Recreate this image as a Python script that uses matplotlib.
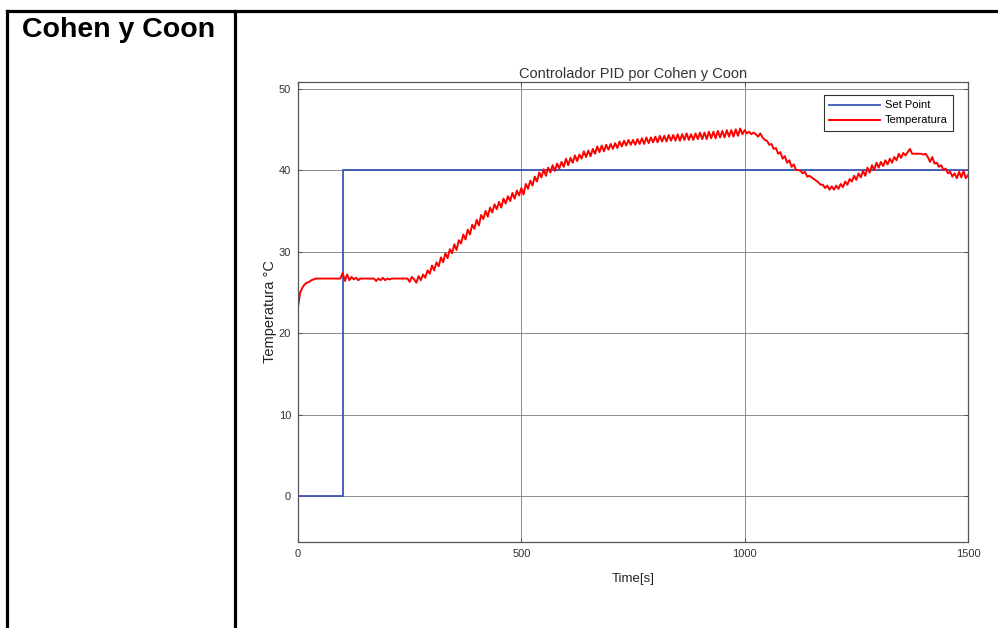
"""
Respuesta del controlador PID sintonizado por Cohen y Coon.
Celda de tabla: etiqueta a la izquierda, grafica de temperatura a la derecha.
"""

import matplotlib

matplotlib.use("Agg")
import matplotlib.pyplot as plt
from matplotlib.lines import Line2D


# set point (escalon en t = 100 s)
sp_time = [0, 100, 100, 1500]
sp_value = [0, 0, 40, 40]

temp_t0 = 0
temp_dt = 5
temperature = [
    23.2, 25.0, 25.6, 26.0, 26.2, 26.3, 26.5, 26.6, 26.7, 26.7,
    26.7, 26.7, 26.7, 26.7, 26.7, 26.7, 26.7, 26.7, 26.7, 26.7,
    27.4, 26.4, 27.2, 26.5, 26.9, 26.6, 26.8, 26.5, 26.7, 26.7,
    26.7, 26.7, 26.7, 26.7, 26.7, 26.4, 26.7, 26.5, 26.8, 26.5,
    26.7, 26.6, 26.7, 26.7, 26.7, 26.7, 26.7, 26.7, 26.7, 26.7,
    26.3, 26.9, 26.6, 26.2, 27.0, 26.5, 27.2, 26.8, 27.7, 27.3,
    28.3, 27.7, 28.7, 28.2, 29.3, 28.7, 29.8, 29.2, 30.3, 29.8,
    30.9, 30.2, 31.4, 31.0, 32.1, 31.5, 32.7, 32.1, 33.3, 32.8,
    33.9, 33.2, 34.5, 34.0, 35.0, 34.3, 35.4, 34.8, 35.8, 35.2,
    36.1, 35.4, 36.5, 35.9, 36.8, 36.2, 37.2, 36.5, 37.5, 36.9,
    37.8, 37.0, 38.3, 37.7, 38.7, 38.1, 39.2, 38.6, 39.7, 39.1,
    40.1, 39.3, 40.3, 39.7, 40.6, 39.9, 40.8, 40.2, 41.0, 40.4,
    41.4, 40.6, 41.5, 40.9, 41.8, 41.1, 41.9, 41.4, 42.3, 41.6,
    42.4, 41.7, 42.6, 42.0, 42.9, 42.2, 43.0, 42.3, 43.1, 42.5,
    43.2, 42.6, 43.3, 42.7, 43.5, 42.9, 43.6, 43.0, 43.7, 43.1,
    43.7, 43.1, 43.8, 43.2, 43.9, 43.2, 44.0, 43.3, 44.0, 43.4,
    44.1, 43.4, 44.2, 43.5, 44.2, 43.5, 44.3, 43.6, 44.3, 43.6,
    44.4, 43.6, 44.4, 43.7, 44.5, 43.7, 44.4, 43.7, 44.5, 43.8,
    44.6, 43.8, 44.6, 43.8, 44.7, 43.9, 44.7, 43.9, 44.8, 44.0,
    44.8, 44.0, 44.9, 44.1, 44.9, 44.1, 45.0, 44.2, 45.1, 44.4,
    44.9, 44.5, 44.7, 44.4, 44.6, 44.4, 44.1, 44.5, 44.0, 43.7,
    43.6, 43.1, 43.2, 42.6, 42.7, 42.0, 42.2, 41.4, 41.7, 40.9,
    41.2, 40.4, 40.7, 40.0, 40.0, 39.9, 39.6, 39.8, 39.2, 39.3,
    39.1, 38.9, 38.7, 38.5, 38.2, 38.2, 37.8, 38.1, 37.6, 38.0,
    37.6, 38.1, 37.7, 38.3, 37.9, 38.6, 38.2, 38.9, 38.6, 39.3,
    38.8, 39.6, 39.1, 39.9, 39.3, 40.3, 39.7, 40.6, 40.0, 40.9,
    40.3, 41.0, 40.5, 41.2, 40.7, 41.4, 40.9, 41.6, 41.2, 42.0,
    41.5, 42.1, 41.8, 42.2, 42.6, 42.0, 42.0, 42.0, 42.0, 42.0,
    41.9, 42.0, 41.6, 41.0, 41.6, 40.8, 40.9, 40.4, 40.6, 40.0,
    40.2, 39.6, 39.8, 39.2, 39.6, 39.0, 39.8, 39.1, 39.9, 39.0,
    39.4,
]
temp_time = [temp_t0 + temp_dt * i for i in range(len(temperature))]

x_ticks = [0, 500, 1000, 1500]
y_ticks = [0, 10, 20, 30, 40, 50]

plt.rcParams["font.family"] = ["Liberation Sans", "DejaVu Sans"]

W, H = 998, 628
fig = plt.figure(figsize=(W / 100, H / 100), dpi=100)

# bordes de la tabla
lw_table = 2.3
fig.add_artist(Line2D([7 / W, 1.0], [1 - 11 / H, 1 - 11 / H], transform=fig.transFigure,
                      color="black", linewidth=lw_table))
fig.add_artist(Line2D([7 / W, 7 / W], [0, 1 - 11 / H], transform=fig.transFigure,
                      color="black", linewidth=lw_table))
fig.add_artist(Line2D([235 / W, 235 / W], [0, 1 - 11 / H], transform=fig.transFigure,
                      color="black", linewidth=lw_table))
fig.text(22 / W, 1 - 30 / H, "Cohen y Coon", fontsize=20.5, fontweight="bold",
         ha="left", va="center")

# grafica
ax = fig.add_axes([298 / W, 1 - 542 / H, 670 / W, 460 / H])
ax.plot(sp_time, sp_value, color="#3a56b8", linewidth=1.3, label="Set Point")
ax.plot(temp_time, temperature, color="#ff0000", linewidth=1.4, label="Temperatura")

ax.set_xlim(0, 1500)
ax.set_ylim(-5.6, 50.8)
ax.set_xticks(x_ticks)
ax.set_yticks(y_ticks)
ax.grid(True, color="#8c8c8c", linewidth=0.7)
ax.set_axisbelow(True)
ax.tick_params(direction="in", length=3, labelsize=8, colors="#555555",
               labelcolor="#333333", top=True, right=True, pad=5)
for s in ax.spines.values():
    s.set_color("#555555")
    s.set_linewidth(0.9)

ax.set_title("Controlador PID por Cohen y Coon", fontsize=10.5, color="#333333", pad=3)
ax.set_xlabel("Time[s]", fontsize=9.5, color="#222222", labelpad=10)
ax.set_ylabel("Temperatura °C", fontsize=10.5, color="#222222", labelpad=1)

leg = ax.legend(loc="upper right", bbox_to_anchor=(0.978, 0.972), fontsize=8,
                frameon=True, fancybox=False, edgecolor="#333333", framealpha=1,
                handlelength=4.6, borderaxespad=0, borderpad=0.5,
                labelspacing=0.45, handletextpad=0.4)
leg.get_frame().set_linewidth(0.8)

fig.savefig("out.png", dpi=100)
plt.close(fig)
